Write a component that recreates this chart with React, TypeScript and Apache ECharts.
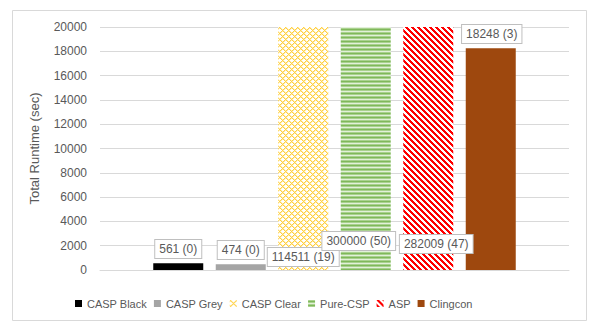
import React, { useEffect, useRef } from "react";
import * as echarts from "echarts";

const categories = [""];
const seriesNames = ["CASP Black", "CASP Grey", "CASP Clear", "Pure-CSP", "ASP", "Clingcon"];
const runtimes = [561, 474, 114511, 300000, 282009, 18248];
const timeouts = [0, 0, 19, 50, 47, 3];
const yMin = 0;
const yMax = 20000;
const yInterval = 2000;

const FONT = "'Liberation Sans', Arial, sans-serif";
const TEXT = "#595959";

function makePattern(w: number, h: number, painter: (x: number, y: number) => string) {
  const c = document.createElement("canvas");
  c.width = w;
  c.height = h;
  const ctx = c.getContext("2d")!;
  for (let y = 0; y < h; y++) {
    for (let x = 0; x < w; x++) {
      ctx.fillStyle = painter(x, y);
      ctx.fillRect(x, y, 1, 1);
    }
  }
  return { image: c, repeat: "repeat", imageWidth: w, imageHeight: h } as any;
}

export default function App() {
  const ref = useRef<HTMLDivElement>(null);
  useEffect(() => {
    if (!ref.current) return;
    const chart = echarts.init(ref.current, undefined, { renderer: "svg" });

    const clearPat = makePattern(6, 6, (x, y) => {
      const a = (x + y) % 6;
      const b = (x - y + 6) % 6;
      if (a === 0 || b === 0) return "#FFD042";
      if (a === 1 || b === 1) return "#FFEBAD";
      return "#FFFFFF";
    });
    const pureCspPat = makePattern(4, 4, (x, y) =>
      ["#A9D18E", "#7FB85A", "#A9D18E", "#E2F0D9"][y]
    );
    const aspPat = makePattern(6, 6, (x, y) => ((x - y + 6) % 6 < 3 ? "#FF0000" : "#FFFFFF"));

    const colors: any[] = ["#000000", "#A5A5A5", clearPat, pureCspPat, aspPat, "#9E480E"];
    const labelOffsets: number[][] = [
      [0, -12],
      [0, -11],
      [0, -4],
      [-7, -20],
      [8, -17],
      [1, -227],
    ];

    const series = seriesNames.map((name, i) => ({
      name,
      type: "bar",
      barWidth: 50,
      barGap: "25%",
      clip: true,
      data: [runtimes[i]],
      itemStyle: { color: colors[i] },
      label: {
        show: true,
        position: "insideBottom",
        distance: 0,
        offset: labelOffsets[i],
        formatter: () => `${runtimes[i]} (${timeouts[i]})`,
        backgroundColor: "#FFFFFF",
        borderColor: "#BFBFBF",
        borderWidth: 1,
        padding: [3, 4, 3, 4],
        color: TEXT,
        fontSize: 12,
        fontFamily: FONT,
      },
    }));

    chart.setOption({
      animation: false,
      textStyle: { fontFamily: FONT },
      graphic: [
        {
          type: "rect",
          shape: { x: 12.5, y: 10.5, width: 574, height: 310 },
          style: { fill: "none", stroke: "#D9D9D9", lineWidth: 1 },
          silent: true,
        },
      ],
      grid: { left: 100, right: 29, top: 27, bottom: 61 },
      legend: {
        left: 70,
        top: 293,
        icon: "rect",
        itemWidth: 7,
        itemHeight: 7,
        itemGap: 7,
        textStyle: { color: TEXT, fontSize: 11, fontFamily: FONT },
        data: seriesNames,
      },
      xAxis: {
        type: "category",
        data: categories,
        axisLine: { show: true, lineStyle: { color: "#D9D9D9" } },
        axisTick: { show: false },
        axisLabel: { show: false },
      },
      yAxis: {
        type: "value",
        min: yMin,
        max: yMax,
        interval: yInterval,
        name: "Total Runtime (sec)",
        nameLocation: "middle",
        nameGap: 59,
        nameTextStyle: { color: TEXT, fontSize: 13, fontFamily: FONT },
        axisLine: { show: false },
        axisTick: { show: false },
        axisLabel: {
          color: TEXT,
          fontSize: 12,
          margin: 13,
          fontFamily: FONT,
          formatter: (v: number) => String(v),
        },
        splitLine: { lineStyle: { color: "#D9D9D9" } },
      },
      series,
    });
    return () => chart.dispose();
  }, []);
  return (
    <div
      ref={ref}
      style={{ position: "absolute", left: 0, top: 0, width: 598, height: 331, background: "#fff" }}
    />
  );
}
